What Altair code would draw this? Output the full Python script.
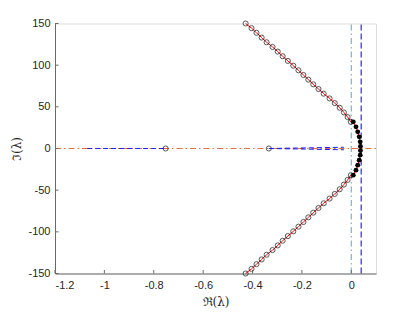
import altair as alt
import pandas as pd

# ---- data ----
up_re = [-0.428, -0.404, -0.384, -0.363, -0.343, -0.319, -0.298, -0.278, -0.257, -0.235, -0.214,
         -0.194, -0.174, -0.154, -0.133, -0.112, -0.088, -0.067, -0.047, -0.030, -0.015, -0.002]
up_im = [150.0, 144.4, 138.8, 133.1, 127.5, 121.9, 116.3, 110.7, 105.1, 99.4, 93.8,
         88.2, 82.6, 77.0, 71.4, 65.8, 60.1, 54.5, 48.9, 43.3, 37.7, 32.0]
lo_re = [-0.428, -0.404, -0.384, -0.363, -0.343, -0.319, -0.298, -0.278, -0.257, -0.235, -0.214,
         -0.194, -0.174, -0.154, -0.133, -0.112, -0.088, -0.067, -0.047, -0.030, -0.015, -0.002]
lo_im = [-150.0, -144.4, -138.8, -133.1, -127.5, -121.9, -116.3, -110.7, -105.1, -99.4, -93.8,
         -88.2, -82.6, -77.0, -71.4, -65.8, -60.1, -54.5, -48.9, -43.3, -37.7, -32.0]
dot_up_re = [0.008, 0.019, 0.026, 0.032, 0.036, 0.037]
dot_up_im = [32.0, 26.0, 20.0, 14.0, 8.0, 2.5]
dot_lo_re = [0.008, 0.019, 0.026, 0.032, 0.036, 0.037]
dot_lo_im = [-32.0, -26.0, -20.0, -14.0, -8.0, -2.5]
real_re = [-0.752, -0.334]
real_im = [0.0, 0.0]

zero_line_x = [-1.2, 0.1]
blue_seg1_x = [-1.07, -0.752]
blue_seg2_x = [-0.334, -0.03]
blue_seg2_up = [0.0, 1.5]
blue_seg2_lo = [0.0, -1.5]
vline_lightblue_x = 0.0
vline_blue_x = 0.04
vline_y = [-150, 150]

x_ticks = [-1.2, -1.0, -0.8, -0.6, -0.4, -0.2, 0.0]
y_ticks = [-150, -100, -50, 0, 50, 100, 150]

# ---- tables ----
red_path = pd.DataFrame({
    "x": up_re + dot_up_re + dot_lo_re[::-1] + lo_re[::-1],
    "y": up_im + dot_up_im + dot_lo_im[::-1] + lo_im[::-1],
})
red_path["o"] = range(len(red_path))
circles = pd.DataFrame({"x": up_re + lo_re + real_re, "y": up_im + lo_im + real_im})
dots = pd.DataFrame({"x": dot_up_re + dot_lo_re, "y": dot_up_im + dot_lo_im})

W, H = 321, 250
xscale = alt.Scale(domain=[-1.2, 0.1], nice=False, zero=False)
yscale = alt.Scale(domain=[-150, 150], nice=False, zero=False)
AX = "#6a6a6a"
xaxis = alt.Axis(title="ℜ(λ)", values=x_ticks, labelExpr="datum.value + ''", grid=False,
                 ticks=False, labelPadding=6, domainColor=AX, labelColor="#262626",
                 labelFont="Liberation Sans", labelFontSize=11, titleFont="DejaVu Serif",
                 titleFontSize=12, titleFontWeight="normal", titleColor="#262626", titlePadding=6)
yaxis = alt.Axis(title="ℑ(λ)", values=y_ticks, labelExpr="datum.value + ''", grid=False,
                 ticks=False, labelPadding=5, domainColor=AX, labelColor="#262626",
                 labelFont="Liberation Sans", labelFontSize=11, titleFont="DejaVu Serif",
                 titleFontSize=12, titleFontWeight="normal", titleColor="#262626", titlePadding=4)

X = lambda f="x": alt.X(f"{f}:Q", scale=xscale, axis=xaxis)
Y = lambda f="y": alt.Y(f"{f}:Q", scale=yscale, axis=yaxis)

def seg(xs, ys):
    d = pd.DataFrame({"x": xs, "y": ys})
    d["o"] = range(len(d))
    return d

orange = alt.Chart(seg(zero_line_x, [0, 0])).mark_line(
    color="#E8703A", strokeWidth=1, strokeDash=[6, 3, 1.5, 3]).encode(X(), Y(), order="o:Q")
blue1 = alt.Chart(seg(blue_seg1_x, [0, 0])).mark_line(
    color="#2020FF", strokeWidth=1, strokeDash=[5, 3]).encode(X(), Y(), order="o:Q")
blue2 = alt.Chart(seg(blue_seg2_x, blue_seg2_up)).mark_line(
    color="#2020FF", strokeWidth=1, strokeDash=[5, 3]).encode(X(), Y(), order="o:Q")
blue3 = alt.Chart(seg(blue_seg2_x, blue_seg2_lo)).mark_line(
    color="#2020FF", strokeWidth=1, strokeDash=[5, 3]).encode(X(), Y(), order="o:Q")

vl = pd.DataFrame({"x": [vline_lightblue_x], "y": [vline_y[0]], "y2": [vline_y[1]]})
vb = pd.DataFrame({"x": [vline_blue_x], "y": [vline_y[0]], "y2": [vline_y[1]]})
vlight = alt.Chart(vl).mark_rule(color="#6BB6E6", strokeWidth=1.2, strokeDash=[6, 3, 1.5, 3]).encode(
    X(), Y(), y2="y2:Q")
vblue = alt.Chart(vb).mark_rule(color="#2a2aF0", strokeWidth=1.2, strokeDash=[6, 3]).encode(
    X(), Y(), y2="y2:Q")

red = alt.Chart(red_path).mark_line(color="#FF0000", strokeWidth=1).encode(X(), Y(), order="o:Q")
circ = alt.Chart(circles).mark_point(shape="circle", size=26, color="#111111", strokeWidth=1,
                                      filled=False).encode(X(), Y())
blk = alt.Chart(dots).mark_circle(size=24, color="#000000", opacity=1).encode(X(), Y())

xt = alt.Chart(pd.DataFrame({"x": x_ticks})).mark_rule(color=AX, strokeWidth=1).encode(
    X(), y=alt.value(H), y2=alt.value(H - 3.5))
yt = alt.Chart(pd.DataFrame({"y": y_ticks})).mark_rule(color=AX, strokeWidth=1).encode(
    Y(), x=alt.value(0), x2=alt.value(3.5))

chart = alt.layer(orange, blue1, blue2, blue3, vlight, vblue, red, circ, blk, xt, yt).properties(
    width=W, height=H,
    autosize=alt.AutoSizeParams(type="none"),
    padding={"left": 47, "top": 15.5, "right": 30, "bottom": 36},
).configure_view(stroke=None).configure(background="white")

chart.save("out.html", embed_options={"renderer": "svg", "actions": False})
